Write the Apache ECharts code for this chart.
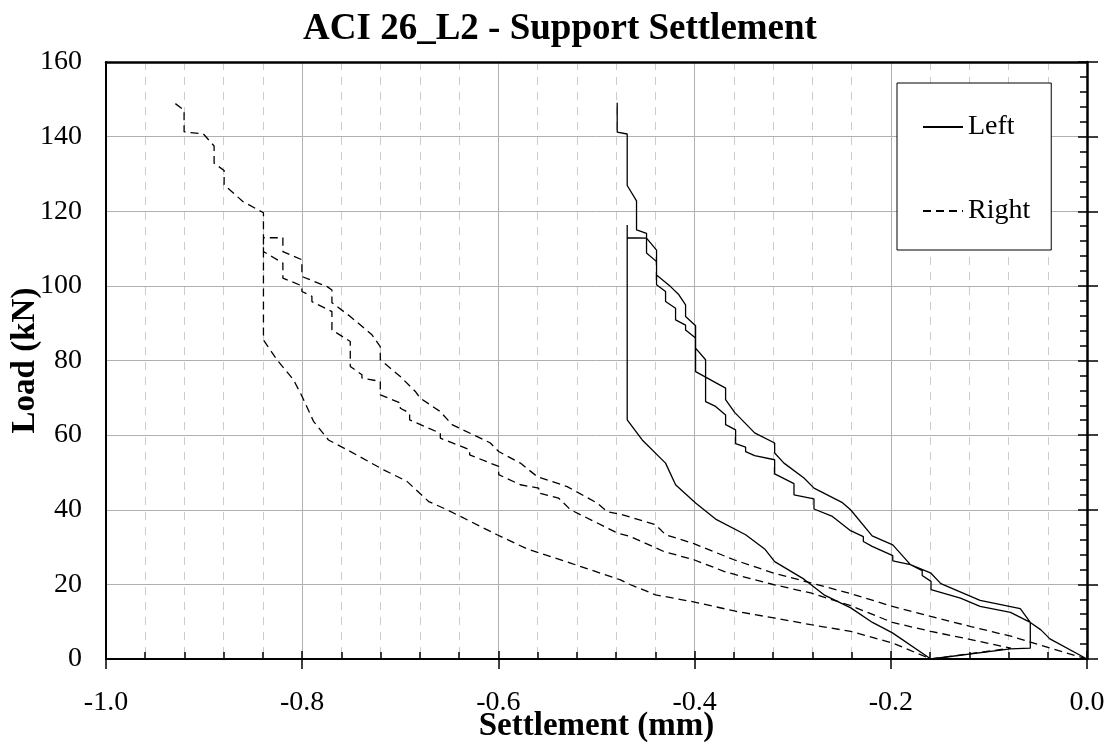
<!DOCTYPE html>
<html>
<head>
<meta charset="utf-8">
<script src="https://cdn.jsdelivr.net/npm/echarts@6/dist/echarts.min.js"></script>
<style>html,body{margin:0;padding:0;background:#fff}#c{width:1120px;height:752px}</style>
</head>
<body>
<div id="c"></div>
<script>
// ---- data (settlement in mm, load in kN) ----
const leftSettlement = [0,-0.0378,-0.047,-0.0578,-0.068,-0.109,-0.149,-0.159,-0.180,-0.198,-0.219,-0.241,-0.2493,-0.2783,-0.2885,-0.3089,-0.3184,-0.3184,-0.3388,-0.3592,-0.3684,-0.3684,-0.3990,-0.3990,-0.4092,-0.4092,-0.4160,-0.4245,-0.4388,-0.4388,-0.4490,-0.4687,-0.4687,
  -0.4687,-0.4534,-0.4296,-0.4194,-0.3990,-0.3786,-0.3480,-0.3286,-0.3184,-0.2885,-0.2681,-0.2408,-0.2187,-0.1983,-0.1592,
  -0.0783,-0.0578,-0.0578,-0.078,-0.109,-0.129,-0.159,-0.159,-0.168,-0.168,-0.180,-0.198,-0.198,-0.219,-0.228,-0.228,-0.241,-0.2595,-0.2783,-0.2783,-0.2987,-0.2987,-0.3184,-0.3184,-0.3388,-0.3480,-0.3480,-0.3582,-0.3582,-0.3684,-0.3684,-0.3786,-0.3888,-0.3888,-0.3990,-0.3990,-0.4092,-0.4092,-0.4194,-0.4194,-0.4296,-0.4296,-0.4388,-0.4388,-0.4490,-0.4490,-0.4592,-0.4592,-0.4687,-0.4687,-0.4789,-0.4789];
const leftLoad = [0,5.4,7.8,9.8,13.5,15.7,20.2,23.0,25.3,30.6,33.0,40.0,41.9,45.8,48.5,52.5,55.2,57.9,60.6,66.1,69.5,72.6,77.0,89.3,91.8,94.9,97.6,99.8,102.9,109.6,112.8,112.9,116.3,
  64.1,58.7,52.5,46.7,41.8,37.5,33.3,29.5,26.1,21.4,17.2,13.7,9.8,7.0,0,
  2.7,2.9,9.8,12.5,14.1,16.3,18.6,20.8,22.4,23.7,25.3,26.3,27.7,30.2,31.5,32.8,34.4,38.2,40.2,42.9,44.0,47.0,49.6,53.4,54.5,55.6,56.8,57.7,61.4,62.8,65.4,67.7,69.0,80.2,83.3,86.0,88.2,89.5,90.9,94.0,95.8,98.5,100.3,106.5,108.8,114.1,115.0,122.8,126.9,140.7,141.2,149.1];

const rightSettlement = [0,-0.0374,-0.0776,-0.1184,-0.1592,-0.1983,-0.2408,-0.2816,-0.3191,-0.3599,-0.4007,-0.4296,-0.4398,-0.4755,-0.4891,-0.4993,-0.5299,-0.5605,-0.5776,-0.5997,-0.6082,-0.6184,-0.6473,-0.6592,-0.6796,-0.6847,-0.7000,-0.7204,-0.7204,-0.7289,-0.7510,-0.7697,-0.7697,-0.7745,-0.8003,-0.8003,-0.8197,-0.8197,-0.8395,
  -0.8395,-0.8258,-0.8088,-0.8000,-0.7885,-0.7732,-0.7544,-0.7170,-0.6932,-0.6711,-0.6524,-0.6013,-0.5707,-0.5265,-0.4755,-0.4653,-0.4398,-0.3990,-0.3582,-0.3191,-0.2816,-0.2408,-0.1983,-0.1592,
  -0.0776,-0.1184,-0.1592,-0.1983,-0.2408,-0.2816,-0.3191,-0.3582,-0.3701,-0.4007,-0.4313,-0.4653,-0.4789,-0.5265,-0.5385,-0.5589,-0.5589,-0.5776,-0.5997,-0.5997,-0.6293,-0.6293,-0.6592,-0.6592,-0.6905,-0.6905,-0.7000,-0.7000,-0.7204,-0.7204,-0.7391,-0.7391,-0.7510,-0.7510,-0.7697,-0.7697,-0.7901,-0.7901,-0.8003,-0.8003,-0.8197,-0.8197,-0.8395,-0.8395,
  -0.8605,-0.8796,-0.8796,-0.8898,-0.8898,-0.9007,-0.9204,-0.9204,-0.9306];
const rightLoad = [0,2.9,6.1,8.7,11.4,14.1,17.5,20.4,23.0,26.6,30.9,33.3,36.0,38.8,39.5,41.8,46.2,48.9,52.5,55.6,57.9,59.2,62.8,66.3,69.9,71.7,75.7,80.2,83.7,86.9,91.8,95.5,98.9,99.8,102.5,107.0,109.2,112.9,112.9,
  85.5,80.2,74.8,70.3,63.7,58.7,56.1,50.7,47.6,42.2,40.0,33.3,29.5,25.7,21.2,19.9,17.2,15.2,12.8,11.0,9.2,7.4,4.3,0,
  2.9,5.2,7.4,9.8,14.3,17.7,19.9,22.6,23.5,26.6,28.8,32.8,33.8,40.0,43.1,44.5,45.8,46.7,49.4,51.6,54.7,56.1,59.2,60.5,64.1,65.9,67.2,68.6,70.8,74.4,75.3,76.2,78.4,85.1,88.2,93.1,95.8,97.2,98.5,100.0,102.1,106.1,109.2,119.6,
  122.6,127.1,130.9,132.9,137.5,140.7,141.3,147.1,149.1];

const seriesNames = ['Left', 'Right'];
const titleText = 'ACI 26_L2 - Support Settlement';
const xName = 'Settlement (mm)';
const yName = 'Load (kN)';

const zip = (xs, ys) => xs.map((x, i) => [x, ys[i]]);
const FONT = 'Liberation Serif';

const chart = echarts.init(document.getElementById('c'), null, {renderer: 'canvas'});
chart.setOption({
  animation: false,
  backgroundColor: '#fff',
  title: {
    text: titleText, left: 'center', top: 6,
    textStyle: {fontFamily: FONT, fontSize: 37, fontWeight: 'bold', color: '#000'}
  },
  legend: {
    data: seriesNames, orient: 'vertical', left: 897, top: 83,
    backgroundColor: '#fff', borderColor: '#000', borderWidth: 1, borderRadius: 0,
    padding: [30, 21, 25, 25], itemGap: 56, itemWidth: 40, itemHeight: 14,
    itemStyle: {opacity: 0, borderWidth: 0},
    textStyle: {fontFamily: FONT, fontSize: 28, color: '#000', lineHeight: 28}
  },
  grid: {left: 106, right: 33, top: 62, bottom: 93, containLabel: false, outerBoundsMode: 'none'},
  xAxis: [{
    type: 'value', min: -1, max: 0, interval: 0.2, position: 'bottom',
    axisLine: {show: true, onZero: false, lineStyle: {color: '#000', width: 2}},
    axisTick: {show: true, inside: false, length: 10, lineStyle: {color: '#000', width: 1.5}},
    axisLabel: {margin: 30, fontFamily: FONT, fontSize: 28, color: '#000', formatter: v => v.toFixed(1)},
    splitLine: {show: true, lineStyle: {color: '#b0b0b0', width: 1}},
    name: xName, nameLocation: 'middle', nameGap: 51, nameMoveOverlap: false,
    nameTextStyle: {fontFamily: FONT, fontSize: 33, fontWeight: 'bold', color: '#000'}
  }, {
    type: 'value', min: -1, max: 0, interval: 0.2, position: 'bottom',
    axisLine: {show: false},
    axisTick: {show: true, inside: true, length: 8, lineStyle: {color: '#000', width: 1.5}},
    minorTick: {show: true, splitNumber: 5, length: 7, lineStyle: {color: '#000', width: 1.5}},
    minorSplitLine: {show: true, lineStyle: {color: '#cccccc', width: 1, type: [8, 7]}},
    axisLabel: {show: false}, splitLine: {show: false}
  }, {
    type: 'value', min: -1, max: 0, position: 'top',
    axisLine: {show: true, onZero: false, lineStyle: {color: '#000', width: 2.5}},
    axisTick: {show: false}, axisLabel: {show: false}, splitLine: {show: false}
  }],
  yAxis: [{
    type: 'value', min: 0, max: 160, interval: 20, position: 'left',
    axisLine: {show: true, onZero: false, lineStyle: {color: '#000', width: 2}},
    axisTick: {show: false},
    axisLabel: {margin: 24, fontFamily: FONT, fontSize: 28, color: '#000'},
    splitLine: {show: true, lineStyle: {color: '#b0b0b0', width: 1}},
    name: yName, nameLocation: 'middle', nameGap: 64, nameRotate: 90, nameMoveOverlap: false,
    nameTextStyle: {fontFamily: FONT, fontSize: 33, fontWeight: 'bold', color: '#000'}
  }, {
    type: 'value', min: 0, max: 160, interval: 20, position: 'right',
    axisLine: {show: true, onZero: false, lineStyle: {color: '#000', width: 2.5}},
    axisTick: {show: true, inside: true, length: 9, lineStyle: {color: '#000', width: 1.5}},
    minorTick: {show: true, splitNumber: 5, length: 7, lineStyle: {color: '#000', width: 1.5}},
    axisLabel: {show: false}, splitLine: {show: false}
  }, {
    type: 'value', min: 0, max: 160, interval: 20, position: 'right',
    axisLine: {show: false},
    axisTick: {show: true, inside: false, length: 11, lineStyle: {color: '#000', width: 1.5}},
    axisLabel: {show: false}, splitLine: {show: false}
  }],
  series: [{
    name: seriesNames[0], type: 'line', xAxisIndex: 0, yAxisIndex: 0,
    data: zip(leftSettlement, leftLoad), symbol: 'none', showSymbol: false,
    lineStyle: {color: '#000', width: 1.3, type: 'solid'}, itemStyle: {color: '#000'}
  }, {
    name: seriesNames[1], type: 'line', xAxisIndex: 0, yAxisIndex: 0,
    data: zip(rightSettlement, rightLoad), symbol: 'none', showSymbol: false,
    lineStyle: {color: '#000', width: 1.3, type: [8, 5]}, itemStyle: {color: '#000'}
  }]
});
</script>
</body>
</html>
